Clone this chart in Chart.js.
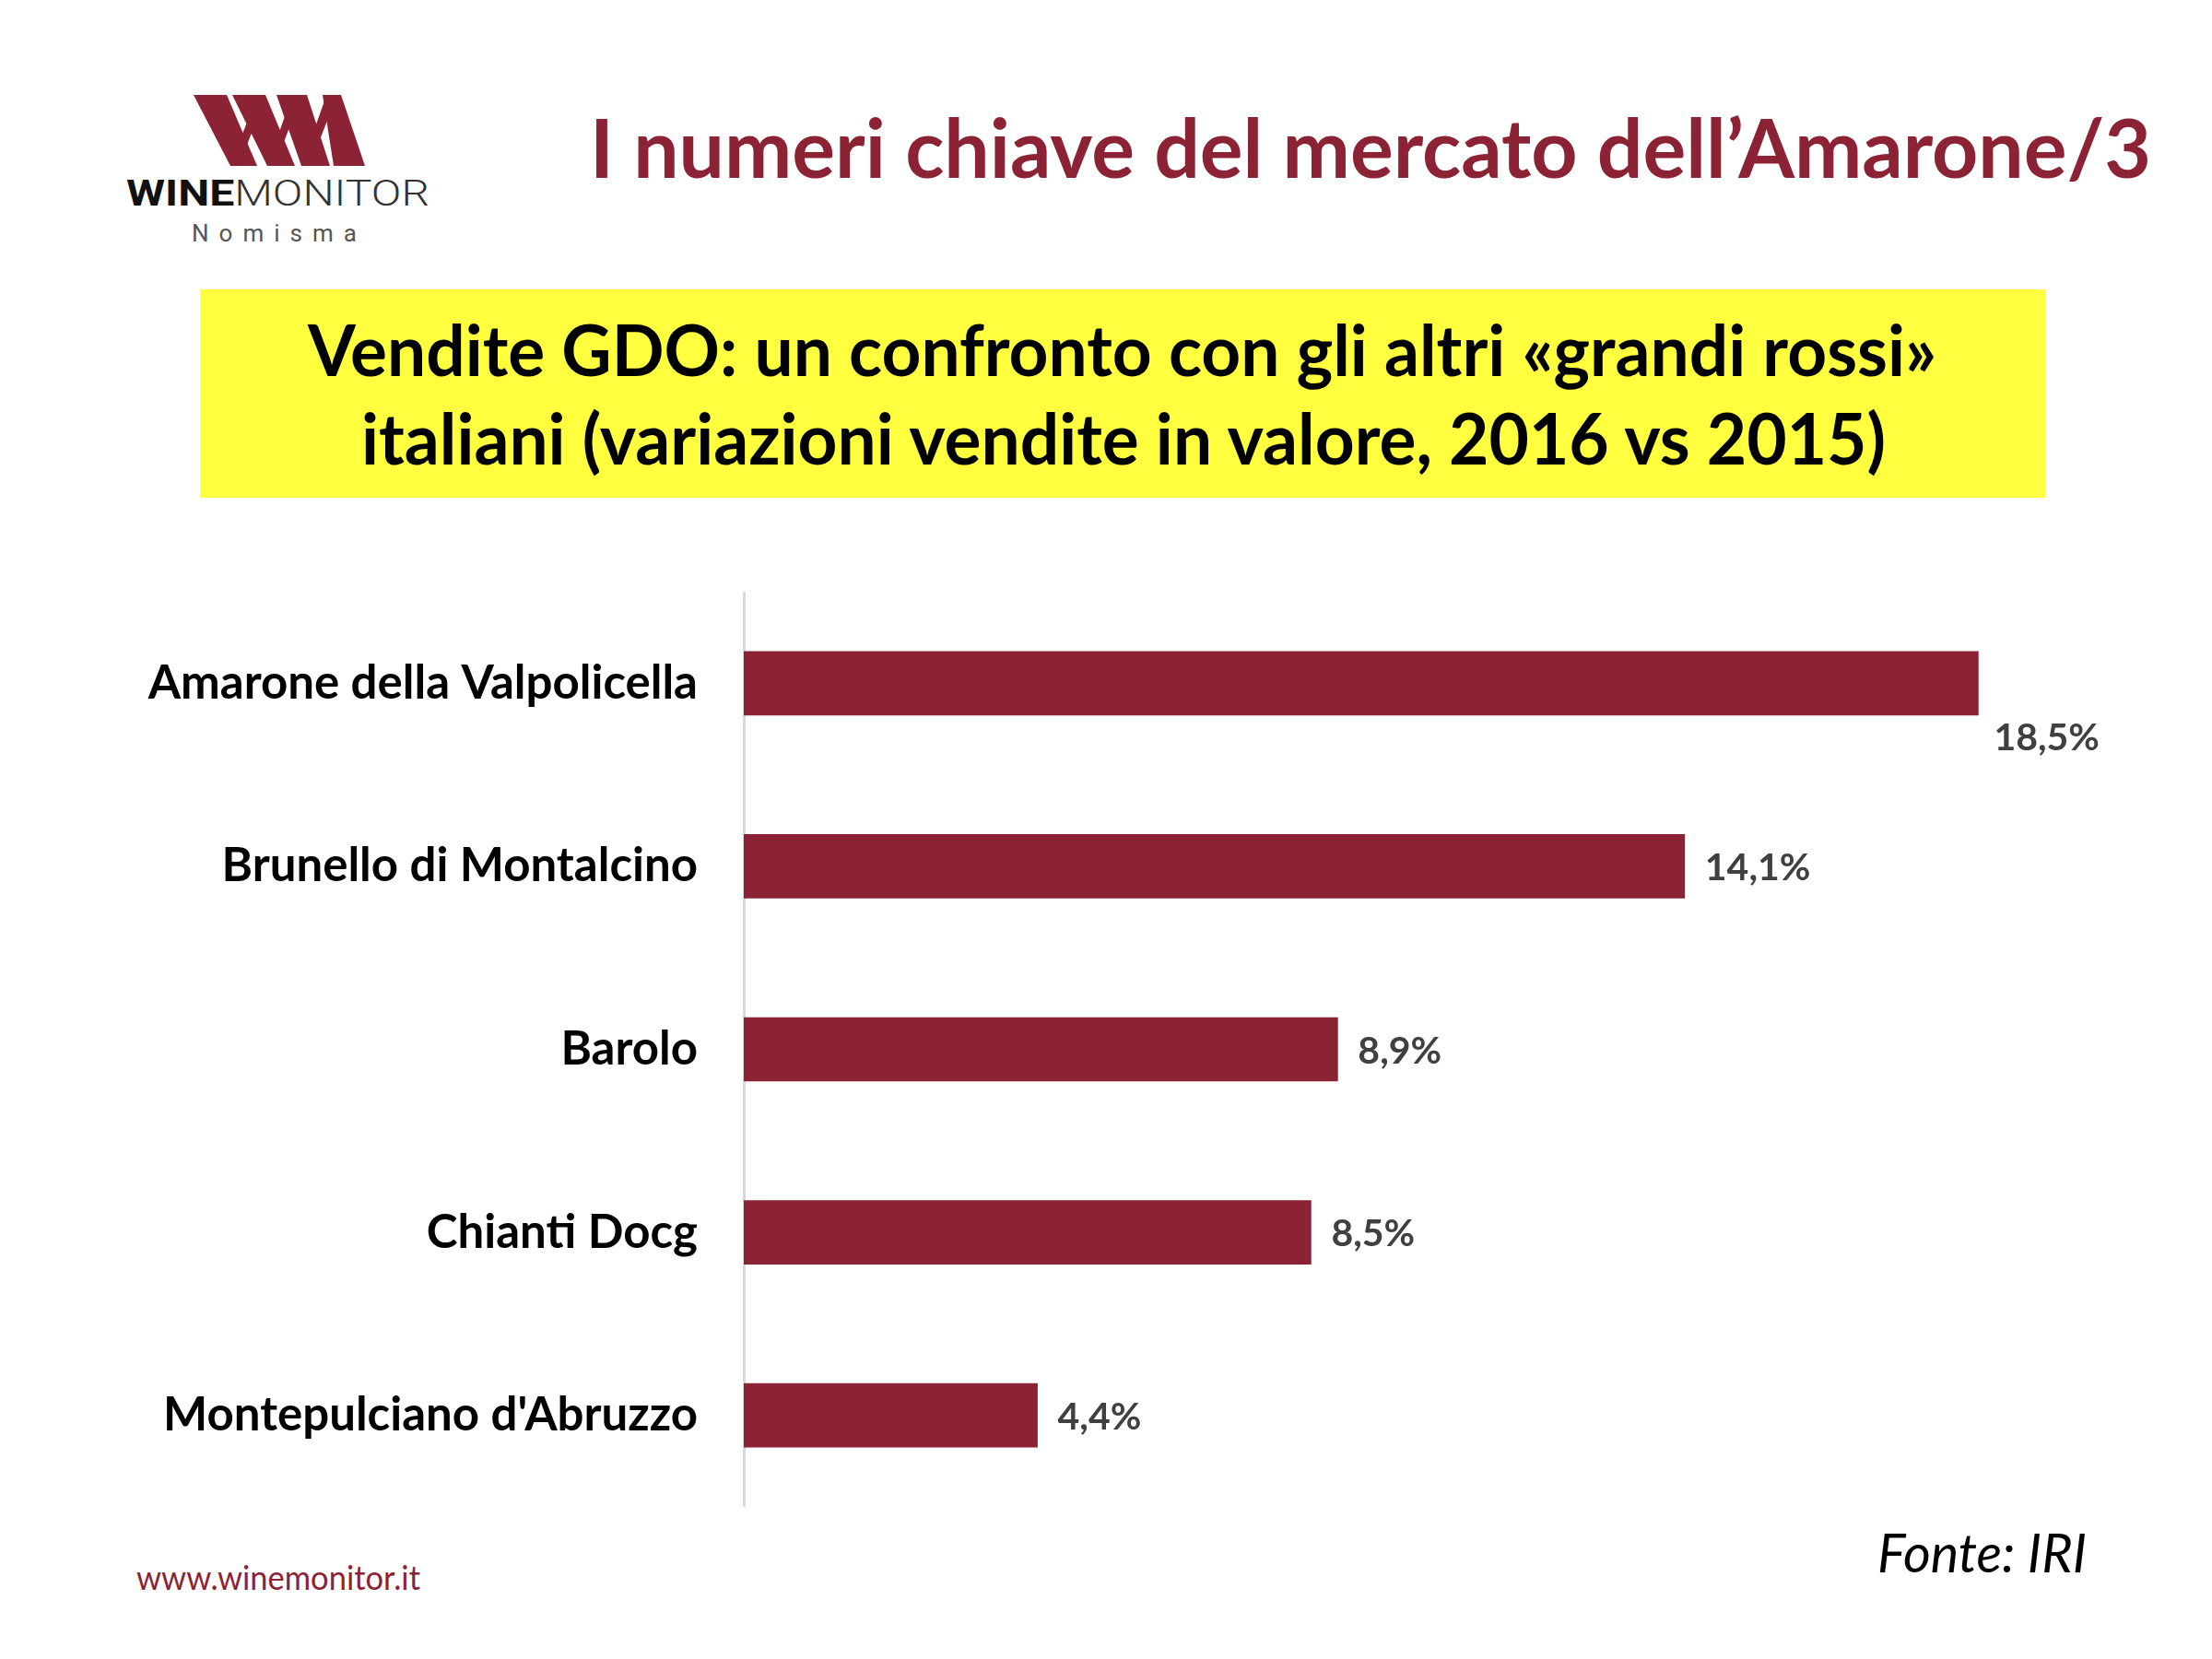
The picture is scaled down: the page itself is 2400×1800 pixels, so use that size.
<!DOCTYPE html>
<html>
<head>
<meta charset="utf-8">
<script src="https://cdn.jsdelivr.net/npm/chart.js@4.4.1/dist/chart.umd.min.js"></script>
<style>
  html, body { margin: 0; padding: 0; background: #fff; }
  #page { position: relative; width: 2400px; height: 1800px; overflow: hidden; }
  #deco { position: absolute; left: 0; top: 0; }
  #chartBox { position: absolute; left: 0; top: 642px; width: 2400px; height: 993px; }
</style>
</head>
<body>
<div id="page">
  <svg id="deco" width="2400" height="1800" xmlns="http://www.w3.org/2000/svg">
    <!-- logo mark -->
    <g fill="#8B2335">
      <polygon points="210,103 246,103 279,180 250,180"/>
      <polygon points="250,180 259,180 281,124 276,111"/>
      <polygon points="252,103 288,103 320,180 290,180"/>
      <polygon points="290,180 298,180 318,128 313,115"/>
      <polygon points="300,103 333,103 358,180 327,180"/>
      <polygon points="327,180 336,180 360,118 354,104"/>
      <polygon points="350,103 370,103 396,180 362,180"/>
    </g>
    <text x="137" y="223" font-family="Roboto" font-size="39" textLength="329" lengthAdjust="spacingAndGlyphs"><tspan font-weight="700" fill="#111">WINE</tspan><tspan font-weight="300" fill="#333">MONITOR</tspan></text>
    <text x="208" y="262" font-family="Roboto" font-size="26" fill="#555" textLength="179" lengthAdjust="spacing">Nomisma</text>

    <text x="640" y="193" font-family="Lato" font-weight="700" font-size="88" fill="#8B2335" textLength="1694" lengthAdjust="spacingAndGlyphs">I numeri chiave del mercato dell’Amarone/3</text>

    <rect x="217" y="314" width="2002" height="226" fill="#FFFF40"/>
    <text x="334" y="408" font-family="Lato" font-weight="700" font-size="76" fill="#000" textLength="1767" lengthAdjust="spacingAndGlyphs">Vendite GDO: un confronto con gli altri «grandi rossi»</text>
    <text x="392" y="504" font-family="Lato" font-weight="700" font-size="76" fill="#000" textLength="1654" lengthAdjust="spacingAndGlyphs">italiani (variazioni vendite in valore, 2016 vs 2015)</text>

    <text x="148" y="1725" font-family="Lato" font-size="36" fill="#8B2335" textLength="308" lengthAdjust="spacingAndGlyphs">www.winemonitor.it</text>
    <text x="2037" y="1706" font-family="Lato" font-style="italic" font-size="58" fill="#000" textLength="227" lengthAdjust="spacingAndGlyphs">Fonte: IRI</text>
  </svg>
  <div id="chartBox"><canvas id="chart"></canvas></div>
</div>
<script>
var labels = ["Amarone della Valpolicella", "Brunello di Montalcino", "Barolo", "Chianti Docg", "Montepulciano d'Abruzzo"];
var values = [18.5, 14.1, 8.9, 8.5, 4.4];

function formatPct(v) {
    return v.toFixed(1).replace('.', ',') + '%';
}

var valueLabels = {
    id: 'valueLabels',
    afterDatasetsDraw: function (chart) {
        var ctx = chart.ctx;
        var meta = chart.getDatasetMeta(0);
        ctx.save();
        ctx.font = 'bold 41px Lato';
        ctx.fillStyle = '#404040';
        ctx.textAlign = 'left';
        ctx.textBaseline = 'middle';
        meta.data.forEach(function (bar, i) {
            var txt = formatPct(values[i]);
            var w = ctx.measureText(txt).width;
            var x = bar.x + 22;
            var y = bar.y + 2;
            if (x + w > chart.chartArea.right) {
                // no room on the right: drop below the bar end
                x = bar.x + 17;
                y = bar.y + bar.height / 2 + 25;
            }
            ctx.fillText(txt, x, y);
        });
        ctx.restore();
    }
};

new Chart(document.getElementById('chart'), {
    type: 'bar',
    data: {
        labels: labels,
        datasets: [{
            data: values,
            backgroundColor: '#8B2335',
            barThickness: 69
        }]
    },
    options: {
        indexAxis: 'y',
        responsive: true,
        maintainAspectRatio: false,
        animation: false,
        devicePixelRatio: 1,
        layout: { padding: { left: 0, top: 0, bottom: 0, right: 145 } },
        plugins: {
            legend: { display: false },
            tooltip: { enabled: false }
        },
        scales: {
            x: {
                display: false,
                min: 0,
                max: 20
            },
            y: {
                grid: { display: false },
                border: { display: true, color: '#D9D9D9', width: 3 },
                ticks: {
                    color: '#000',
                    padding: 42,
                    font: { family: 'Lato', weight: 'bold', size: 51 }
                },
                afterFit: function (scale) {
                    scale.width = 807;
                    scale.paddingTop = 0;
                    scale.paddingBottom = 0;
                }
            }
        }
    },
    plugins: [valueLabels]
});
</script>
</body>
</html>
